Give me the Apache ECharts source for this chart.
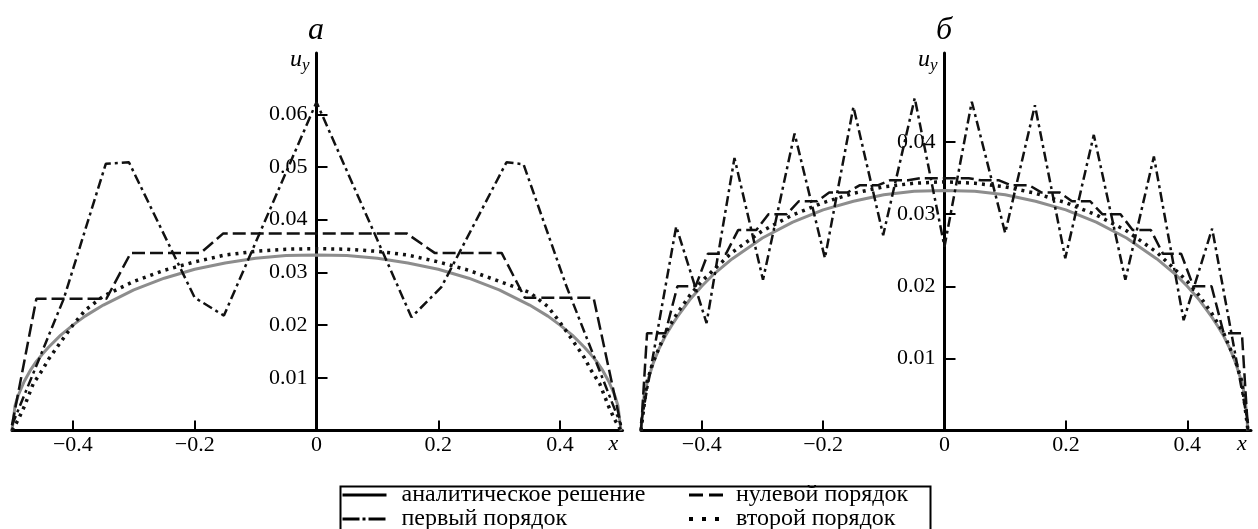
<!DOCTYPE html>
<html><head><meta charset="utf-8">
<script src="https://cdn.jsdelivr.net/npm/echarts@6/dist/echarts.min.js"></script>
<style>html,body{margin:0;padding:0;background:#fff}#c{width:1258px;height:529px}</style>
</head><body><div id="c"></div><script>
const names = ['аналитическое решение','нулевой порядок','первый порядок','второй порядок'];
const panelTitles = ['а','б'];
const xTicks = [-0.4,-0.2,0,0.2,0.4];
const yTicksA = [0.01,0.02,0.03,0.04,0.05,0.06];
const yTicksB = [0.01,0.02,0.03,0.04];

// analytical solution (same in both panels)
const xAnalytic = [-0.5,-0.495,-0.49,-0.48,-0.47,-0.46,-0.45,-0.44,-0.42,-0.4,-0.38,-0.35,-0.3,-0.25,-0.2,-0.15,-0.1,-0.05,0,0.05,0.1,0.15,0.2,0.25,0.3,0.35,0.38,0.4,0.42,0.44,0.45,0.46,0.47,0.48,0.49,0.495,0.5];
const yAnalytic = [0,0.0047,0.0066,0.0093,0.0114,0.0131,0.0145,0.0158,0.0181,0.0200,0.0217,0.0238,0.0267,0.0289,0.0306,0.0318,0.0327,0.0332,0.0333,0.0332,0.0327,0.0318,0.0306,0.0289,0.0267,0.0238,0.0217,0.0200,0.0181,0.0158,0.0145,0.0131,0.0114,0.0093,0.0066,0.0047,0];

// panel a
const xZeroA = [-0.5,-0.46,-0.345,-0.305,-0.19,-0.153,0.148,0.194,0.304,0.342,0.455,0.5];
const yZeroA = [0.001,0.025,0.025,0.0337,0.0337,0.0374,0.0374,0.0337,0.0337,0.0252,0.0252,0.001];
const xFirstA = [-0.5,-0.415,-0.346,-0.308,-0.2,-0.152,0,0.156,0.205,0.312,0.34,0.41,0.5];
const yFirstA = [0.001,0.025,0.0506,0.0509,0.0252,0.0218,0.0623,0.0215,0.0272,0.0509,0.0505,0.0275,0.001];
const xSecondA = [-0.5,-0.49,-0.48,-0.465,-0.45,-0.44,-0.42,-0.4,-0.38,-0.35,-0.3,-0.25,-0.2,-0.15,-0.1,-0.05,0,0.05,0.1,0.15,0.2,0.25,0.3,0.35,0.38,0.4,0.42,0.44,0.45,0.465,0.48,0.49,0.5];
const ySecondA = [0,0.002,0.0045,0.0089,0.0115,0.0135,0.0168,0.0200,0.0228,0.0255,0.0283,0.0304,0.032,0.0333,0.034,0.0344,0.0345,0.0344,0.034,0.0333,0.032,0.0304,0.0283,0.0262,0.0235,0.0205,0.0172,0.0138,0.0116,0.0089,0.0045,0.002,0];

// panel b
const xZeroB = [-0.5,-0.49,-0.46,-0.44,-0.41,-0.39,-0.36,-0.34,-0.31,-0.29,-0.26,-0.24,-0.21,-0.19,-0.16,-0.14,-0.11,-0.09,-0.06,-0.04,-0.01,0.01,0.04,0.06,0.09,0.11,0.14,0.16,0.19,0.21,0.24,0.26,0.29,0.31,0.34,0.36,0.39,0.41,0.44,0.46,0.49,0.5];
const yZeroB = [0,0.0135,0.0135,0.02,0.02,0.0245,0.0245,0.0278,0.0278,0.03,0.03,0.0318,0.0318,0.033,0.033,0.034,0.034,0.0347,0.0347,0.035,0.035,0.035,0.035,0.0347,0.0347,0.034,0.034,0.033,0.033,0.0318,0.0318,0.03,0.03,0.0278,0.0278,0.0245,0.0245,0.02,0.02,0.0135,0.0135,0];
const xFirstB = [-0.5,-0.442,-0.392,-0.346,-0.299,-0.247,-0.197,-0.150,-0.101,-0.049,0,0.045,0.100,0.149,0.199,0.246,0.298,0.345,0.394,0.441,0.5];
const yFirstB = [0.001,0.0283,0.0149,0.0378,0.0209,0.0412,0.0239,0.0449,0.0271,0.0461,0.0255,0.0456,0.0274,0.0451,0.0239,0.041,0.0209,0.038,0.0153,0.028,0.001];
const xSecondB = [-0.5,-0.49,-0.48,-0.46,-0.44,-0.42,-0.4,-0.35,-0.3,-0.25,-0.2,-0.15,-0.1,-0.05,0,0.05,0.1,0.15,0.2,0.25,0.3,0.35,0.4,0.42,0.44,0.46,0.48,0.49,0.5];
const ySecondB = [0,0.0068,0.0095,0.0135,0.0163,0.0187,0.0207,0.0247,0.0277,0.0299,0.0316,0.0329,0.0338,0.0343,0.0345,0.0343,0.0338,0.0329,0.0316,0.0299,0.0277,0.0247,0.0207,0.0187,0.0163,0.0135,0.0095,0.0068,0];

const serif = 'Liberation Serif';
const zip = (xs, ys) => xs.map((x, i) => [x, ys[i]]);
const lineStyles = {
  [names[0]]: {color:'#8d8d8d', width:3, type:'solid'},
  [names[1]]: {color:'#111', width:2.5, type:[13,5]},
  [names[2]]: {color:'#111', width:2.5, type:[10,4,3,4]},
  [names[3]]: {color:'#111', width:3.5, type:[3,5]}
};
function mk(name, gi, xs, ys, z) {
  const ls = lineStyles[name];
  return {type:'line', name, xAxisIndex:gi, yAxisIndex:gi, data:zip(xs, ys),
    symbol:'circle', showSymbol:false, symbolSize:2, z, silent:true,
    itemStyle:{color:ls.color}, lineStyle:{color:ls.color, width:ls.width, type:ls.type}};
}
const fmtX = v => v === 0 ? '0' : (v < 0 ? '\u2212' : '') + Math.abs(v).toFixed(1);
function xAxisCfg(gi, max) {
  return {type:'value', gridIndex:gi, min:-0.5, max,
    axisLine:{show:true, onZero:false, lineStyle:{color:'#000', width:3}},
    axisTick:{show:true, inside:true, length:10, customValues:xTicks, lineStyle:{color:'#000', width:2}},
    axisLabel:{customValues:xTicks, formatter:fmtX, color:'#000', fontFamily:serif, fontSize:22, margin:4},
    splitLine:{show:false},
    name:'x', nameLocation:'end', nameGap:-9,
    nameTextStyle:{fontFamily:serif, fontStyle:'italic', fontSize:22, color:'#000', align:'center', verticalAlign:'top', padding:[3,0,0,0]}
  };
}
function yAxisCfg(gi, max, ticks, offset) {
  return {type:'value', gridIndex:gi, min:0, max, position:'left', offset,
    axisLine:{show:true, onZero:false, lineStyle:{color:'#000', width:3}},
    axisTick:{show:true, inside:true, length:11, customValues:ticks, lineStyle:{color:'#000', width:2}},
    axisLabel:{customValues:ticks, formatter:v => v.toFixed(2), color:'#000', fontFamily:serif, fontSize:22, margin:9},
    splitLine:{show:false},
    name:'{u|u}{s|y}', nameLocation:'end', nameGap:5,
    nameTextStyle:{align:'right', verticalAlign:'top', padding:[0,7,0,0],
      rich:{
        u:{fontFamily:serif, fontStyle:'italic', fontSize:24, color:'#000', lineHeight:24, verticalAlign:'top'},
        s:{fontFamily:serif, fontStyle:'italic', fontSize:17, color:'#000', lineHeight:18, verticalAlign:'top', padding:[9,0,0,0]}
      }}
  };
}
const titleStyle = {fontFamily:serif, fontStyle:'italic', fontWeight:'normal', fontSize:32, color:'#000'};
const legendText = {fontFamily:serif, fontSize:24, color:'#000', lineHeight:21};
const option = {
  backgroundColor:'#fff',
  animation:false,
  title:[
    {text:panelTitles[0], left:308, top:15, padding:0, textStyle:titleStyle},
    {text:panelTitles[1], left:936, top:15, padding:0, textStyle:titleStyle}
  ],
  grid:[
    {left:12, top:53, width:610.5, height:377.5, outerBoundsMode:'none', containLabel:false},
    {left:641, top:53, width:610, height:377.5, outerBoundsMode:'none', containLabel:false}
  ],
  xAxis:[xAxisCfg(0, 0.5025), xAxisCfg(1, 0.505)],
  yAxis:[yAxisCfg(0, 0.07163, yTicksA, -304.5), yAxisCfg(1, 0.05236, yTicksB, -303.5)],
  legend:[
    {data:[
      {name:names[0], lineStyle:{color:'#000', width:3, type:'solid'}},
      {name:names[2], lineStyle:{color:'#000', width:3, type:[17,3,3,3]}}],
     orient:'vertical', left:341, top:483, height:60, padding:0, itemGap:0, itemWidth:44, itemHeight:4,
     selectedMode:false, itemStyle:{opacity:0}, textStyle:Object.assign({padding:[0,0,0,10]}, legendText)},
    {data:[
      {name:names[1], lineStyle:{color:'#000', width:3, type:[14,6]}},
      {name:names[3], lineStyle:{color:'#000', width:4, type:[4,9]}}],
     orient:'vertical', left:687, top:483, height:60, padding:0, itemGap:0, itemWidth:35, itemHeight:4,
     selectedMode:false, itemStyle:{opacity:0}, textStyle:Object.assign({padding:[0,0,0,7]}, legendText)}
  ],
  graphic:[{type:'rect', left:338, top:484, shape:{width:590, height:60}, style:{fill:'none', stroke:'#000', lineWidth:2}, silent:true}],
  series:[
    mk(names[0], 0, xAnalytic, yAnalytic, 2),
    mk(names[1], 0, xZeroA, yZeroA, 3),
    mk(names[2], 0, xFirstA, yFirstA, 3),
    mk(names[3], 0, xSecondA, ySecondA, 4),
    mk(names[0], 1, xAnalytic, yAnalytic, 2),
    mk(names[1], 1, xZeroB, yZeroB, 3),
    mk(names[2], 1, xFirstB, yFirstB, 3),
    mk(names[3], 1, xSecondB, ySecondB, 4)
  ]
};
const chart = echarts.init(document.getElementById('c'), null, {renderer:'canvas'});
chart.setOption(option);
</script></body></html>
